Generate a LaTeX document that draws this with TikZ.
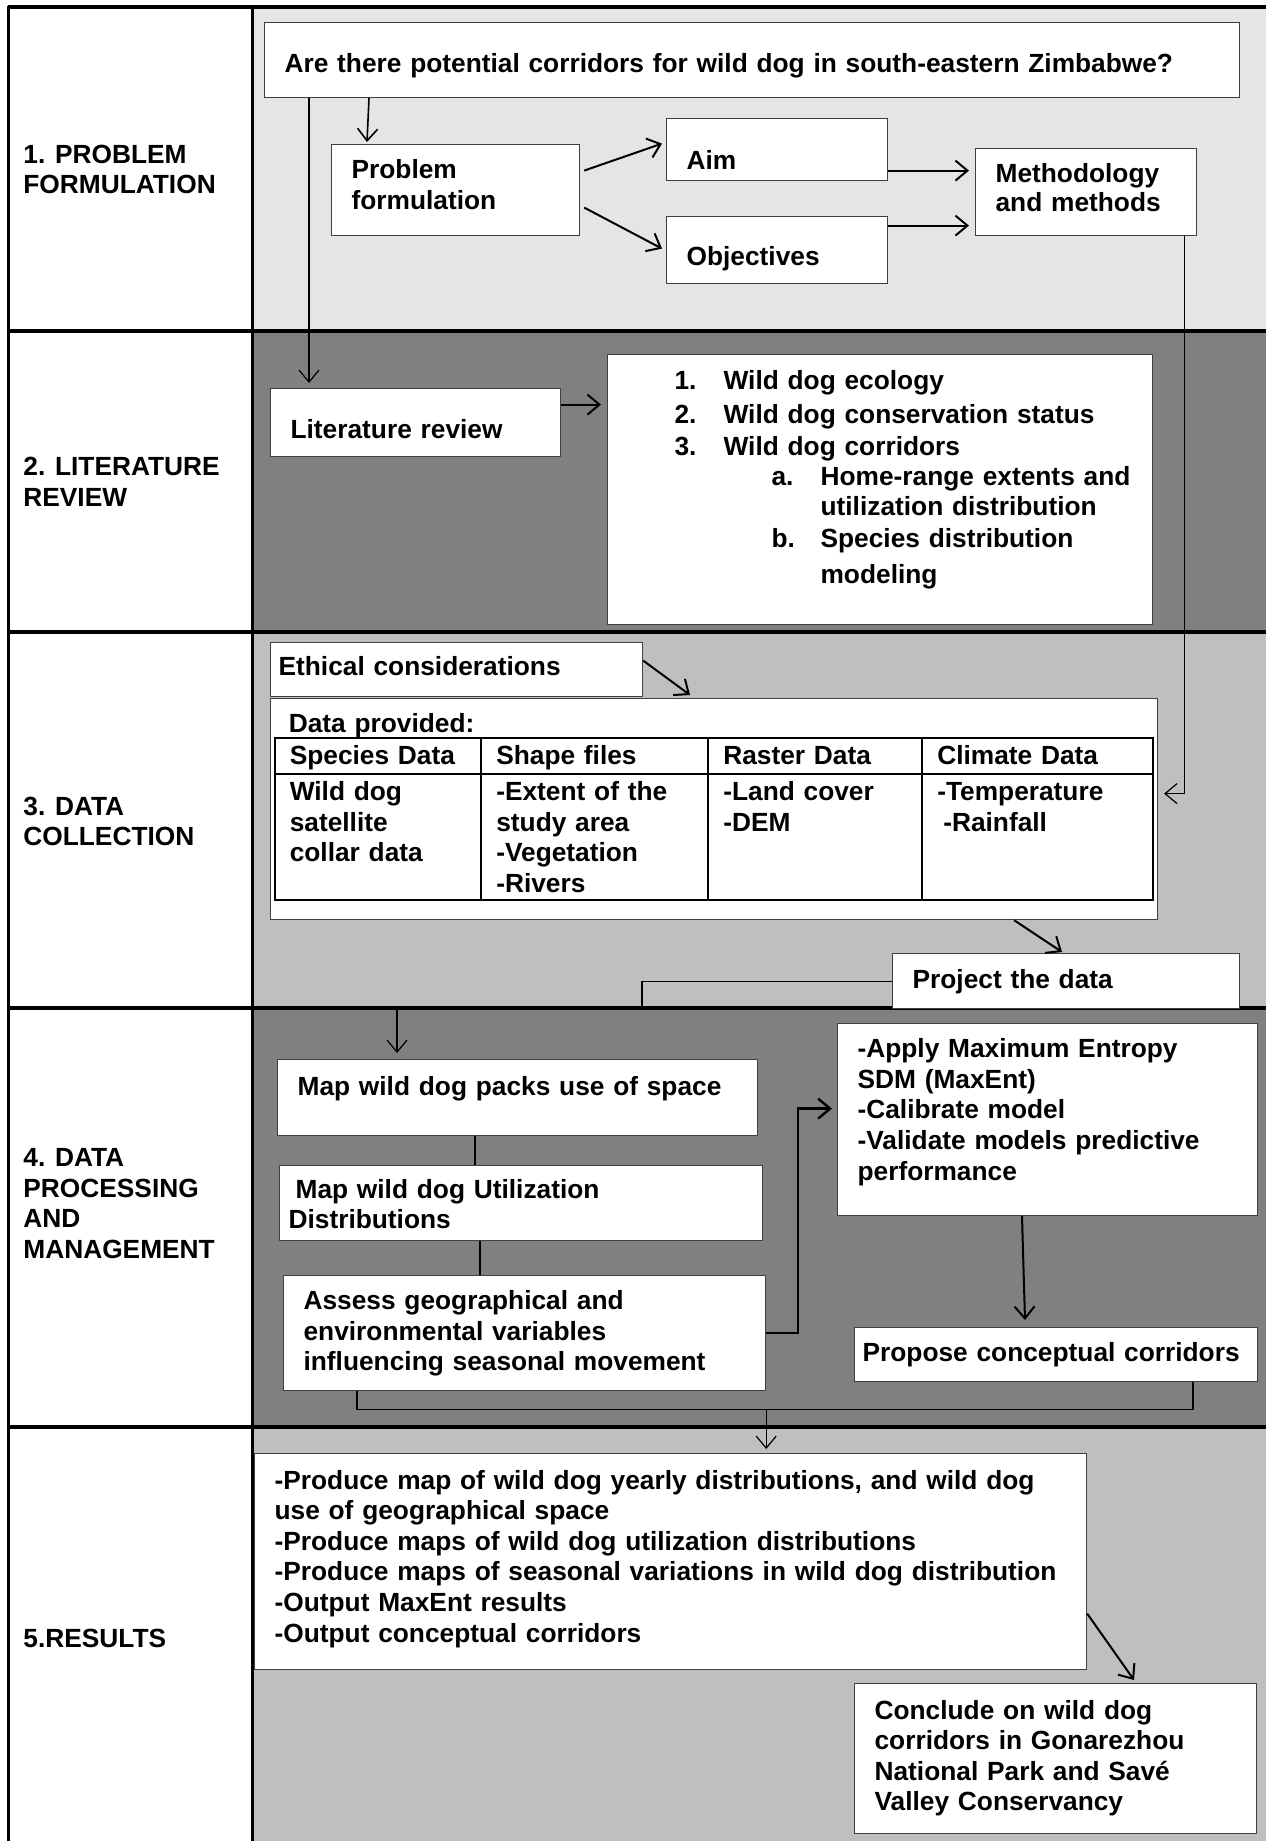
\documentclass[tikz,border=0pt]{standalone}
\usepackage{fontspec}
\setmainfont{Liberation Sans}
\usepackage{array}
\usetikzlibrary{arrows.meta}
\definecolor{laneLight}{gray}{0.9}
\definecolor{laneDark}{gray}{0.5}
\definecolor{laneMid}{gray}{0.75}

\begin{document}
\begin{tikzpicture}[x=0.5pt, y=-0.5pt,
  every node/.style={font=\bfseries\fontsize{13.15}{15.3}\selectfont},
  swimlane/.style={rectangle, anchor=north west, inner sep=0pt, minimum width=507pt},
  stage/.style={anchor=west, align=left, inner sep=0pt},
  box/.style={rectangle, draw=black!75, line width=0.6pt, fill=white, anchor=north west, align=left, inner xsep=10pt, inner ysep=0pt},
  arr/.style={-{Straight Barb[length=6pt,width=10pt]}, line width=1pt},
  link/.style={line width=0.6pt},
  frame/.style={line width=2pt}
]
\useasboundingbox (0,0) rectangle (1266,1841);
% Swimlanes
\node[swimlane, fill=laneLight, minimum height=162pt] (lane1) at (252,7) {};
\node[swimlane, fill=laneDark, minimum height=150.5pt] (lane2) at (252,331) {};
\node[swimlane, fill=laneMid, minimum height=188pt] (lane3) at (252,632) {};
\node[swimlane, fill=laneDark, minimum height=209.5pt] (lane4) at (252,1008) {};
\node[swimlane, fill=laneMid, minimum height=207pt] (lane5) at (252,1427) {};
\draw[frame] (8,7) -- (1266,7);
\foreach \y in {331,632,1008,1427} \draw[frame] (8,\y) -- (1266,\y);
\draw[line width=1.5pt] (8,6) -- (8,1841);
\draw[line width=1.5pt] (252,7) -- (252,1841);
% Stages
\node[stage] (st1) at (23,169.5) {1. PROBLEM\\FORMULATION};
\node[stage] (st2) at (23,482) {2. LITERATURE\\REVIEW};
\node[stage] (st3) at (23,821.5) {3. DATA\\COLLECTION};
\node[stage] (st4) at (23,1203.5) {4. DATA\\PROCESSING\\AND\\MANAGEMENT};
\node[stage] (st5) at (23,1638) {5.RESULTS};
% 1. Problem formulation
\node[box, text width=467.5pt, text height=25pt, text depth=12.5pt] (q) at (264,22) {Are there potential corridors for wild dog in south-eastern Zimbabwe?};
\node[box, text width=104pt, text height=17pt, text depth=28.5pt] (pf) at (331,144) {Problem\\formulation};
\node[box, text width=90.5pt, text height=25.25pt, text depth=5.75pt] (aim) at (666,118) {Aim};
\node[box, text width=90.5pt, text height=24.5pt, text depth=9pt] (obj) at (666,216) {Objectives};
\node[box, text width=90.5pt, text height=17pt, text depth=26.5pt] (meth) at (975,148) {Methodology\\[-1pt]and methods};
% 2. Literature review
\node[box, text width=125pt, text height=25pt, text depth=9pt] (lit) at (270,388) {Literature review};
\node[box, inner xsep=5pt, text width=262.5pt, text height=17.25pt, text depth=117.75pt] (topics) at (607,354) {%
\hspace*{28.5pt}\makebox[24.5pt][l]{1.}Wild dog ecology\\[2pt]
\hspace*{28.5pt}\makebox[24.5pt][l]{2.}Wild dog conservation status\\[0.6pt]
\hspace*{28.5pt}\makebox[24.5pt][l]{3.}Wild dog corridors\\[-0.4pt]
\hspace*{77pt}\makebox[24.5pt][l]{a.}Home-range extents and\\
\hspace*{101.5pt}utilization distribution\\[0.4pt]
\hspace*{77pt}\makebox[24.5pt][l]{b.}Species distribution\\[2.7pt]
\hspace*{101.5pt}modeling};
% 3. Data collection
\node[box, inner xsep=4pt, text width=178pt, text height=16.5pt, text depth=10.5pt] (eth) at (270,642) {Ethical considerations};
\node[box, inner xsep=1.6pt, text width=440.25pt, text height=16.75pt, text depth=93.75pt] (data) at (270,698) {%
\hspace*{7.5pt}Data provided:\\[-1.5pt]
\setlength{\arrayrulewidth}{1pt}\setlength{\tabcolsep}{7pt}\renewcommand{\arraystretch}{0.7}\setlength{\extrarowheight}{7.7pt}%
\begin{tabular}{|>{\raggedright\arraybackslash}p{88.25pt}|>{\raggedright\arraybackslash}p{98.5pt}|>{\raggedright\arraybackslash}p{92pt}|>{\raggedright\arraybackslash}p{100.5pt}|}
\hline
Species Data\rule[-4.2pt]{0pt}{0pt} & Shape files & Raster Data & Climate Data\\
\hline
Wild dog\newline satellite\newline collar data & -Extent of the\newline study area\newline -Vegetation\newline -Rivers & -Land cover\newline -DEM & -Temperature\newline \hspace*{3pt}-Rainfall\\
\hline
\end{tabular}};
\node[box, text width=153.5pt, text height=17.25pt, text depth=10.25pt] (proj) at (892,953) {Project the data};
% 4. Data processing and management
\node[box, text width=220pt, text height=17.75pt, text depth=20.25pt] (map) at (277,1059) {Map wild dog packs use of space};
\node[box, inner xsep=4.5pt, text width=232.5pt, text height=16.25pt, text depth=21.25pt] (ud) at (279,1165) {\hspace*{3.5pt}Map wild dog Utilization\\Distributions};
\node[box, text width=221pt, text height=17pt, text depth=40.5pt] (assess) at (283,1275) {Assess geographical and\\environmental variables\\influencing seasonal movement};
\node[box, text width=190pt, text height=17pt, text depth=79pt] (sdm) at (837,1023) {-Apply Maximum Entropy\\SDM (MaxEnt)\\-Calibrate model\\-Validate models predictive\\performance};
\node[box, inner xsep=4pt, text width=193.5pt, text height=16.75pt, text depth=10.25pt] (prop) at (854,1327) {Propose conceptual corridors};
% 5. Results
\node[box, text width=396pt, text height=17.75pt, text depth=90.25pt] (res) at (254,1453) {-Produce map of wild dog yearly distributions, and wild dog\\use of geographical space\\-Produce maps of wild dog utilization distributions\\-Produce maps of seasonal variations in wild dog distribution\\-Output MaxEnt results\\-Output conceptual corridors};
\node[box, text width=181pt, text height=17.75pt, text depth=57.25pt] (conc) at (854,1683) {Conclude on wild dog\\corridors in Gonarezhou\\National Park and Savé\\Valley Conservancy};
% Flows
\draw[arr, line width=0.8pt] ([xshift=52.5pt]q.south west) -- ([xshift=18pt, yshift=1pt]pf.north west);
\draw[arr, link] ([xshift=22.5pt]q.south west) -- ([xshift=19.5pt, yshift=2.5pt]lit.north west);
\draw[arr] ([shift={(2pt,9.75pt)}]pf.east) -- ([shift={(-2pt,3pt)}]aim.west);
\draw[arr] ([shift={(2pt,-8.75pt)}]pf.east) -- ([shift={(-2pt,0.75pt)}]obj.west);
\draw[arr, shorten >=3pt] ([yshift=-10.5pt]aim.east) -- ([yshift=-10.5pt]aim.east -| meth.west);
\draw[arr, shorten >=3pt] ([yshift=12.25pt]obj.east) -- ([yshift=12.25pt]obj.east -| meth.west);
\draw[arr, shorten >=3pt] ([yshift=9pt]lit.east) -- ([yshift=9pt]lit.east -| topics.west);
\draw[arr, link] ([xshift=-6.5pt]meth.south east) |- ([shift={(3pt,7.75pt)}]data.east);
\draw[arr] ([yshift=4.5pt]eth.east) -- ([shift={(210pt,1.5pt)}]data.north west);
\draw[arr] ([xshift=-72pt]data.south east) -- ([shift={(85pt,0.5pt)}]proj.north west);
\draw[arr, link] (proj.west) -- ++(-250,0) -- ++(0,28) -| ([xshift=60pt, yshift=3pt]map.north west);
\draw[link] ([xshift=99pt]map.south west) -- ([xshift=98pt]ud.north west);
\draw[link] ([xshift=100.5pt]ud.south west) -- ([xshift=98.5pt]assess.north west);
\draw[arr, line width=1.2pt] (assess.east) -- ++(16pt,0) |- ([shift={(-2.5pt,5.5pt)}]sdm.west);
\draw[arr] ([xshift=92.5pt]sdm.south west) -- ([shift={(85.5pt,3.5pt)}]prop.north west);
\coordinate (join) at ([yshift=-9pt]assess.south east);
\draw[link] ([xshift=37pt]assess.south west) |- (join) -| ([xshift=169.5pt]prop.south west);
\draw[arr, link] (join) -- ([yshift=2pt]join |- res.north);
\draw[arr] ([yshift=-26pt]res.east) -- ([shift={(140pt,1.5pt)}]conc.north west);
\end{tikzpicture}
\end{document}
